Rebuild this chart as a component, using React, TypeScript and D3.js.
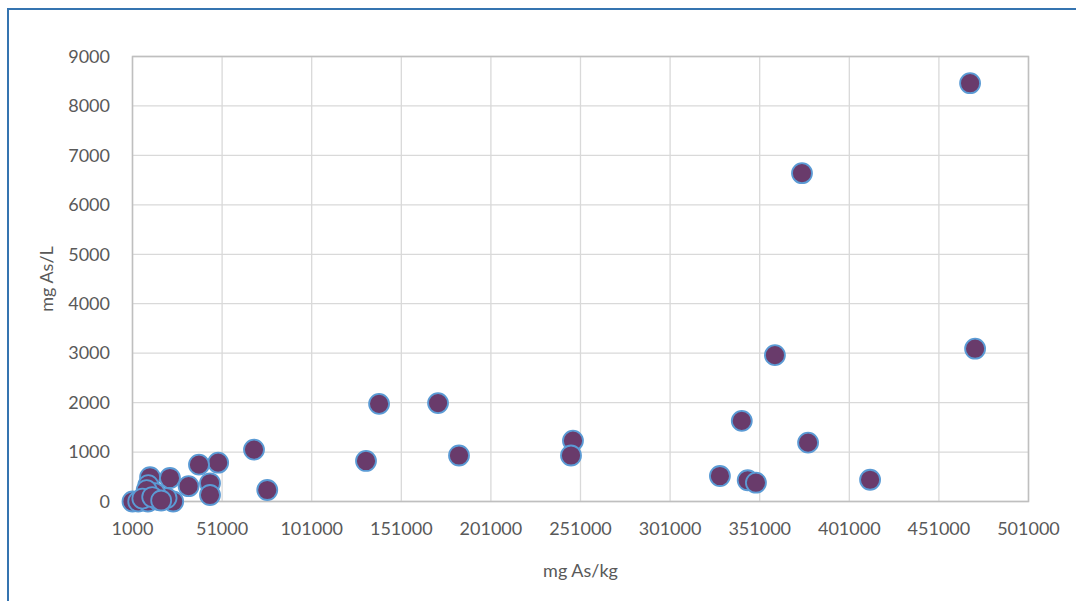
import React from "react";
import * as d3 from "d3";

const xValues = [
  468400, 374600, 359500, 471200, 341000, 378000, 412600, 328800, 344300, 348900,
  246800, 245700, 171500, 138600, 183200, 131300, 68800, 76200, 48800, 38100,
  44250, 44250, 32300, 10800, 21900, 9800, 23700, 1000, 4200, 9600,
  15200, 20000, 13500, 8900, 6500, 12000, 17000,
];
const yValues = [
  8460, 6640, 2960, 3090, 1630, 1190, 440, 516, 430, 380,
  1230, 930, 1990, 1975, 930, 820, 1050, 233, 785, 745,
  368, 131, 310, 490, 475, 330, 0, 0, 0, 0,
  30, 70, 170, 230, 60, 90, 20,
];
const xTicks = [1000, 51000, 101000, 151000, 201000, 251000, 301000, 351000, 401000, 451000, 501000];
const yTicks = [0, 1000, 2000, 3000, 4000, 5000, 6000, 7000, 8000, 9000];
const xTitle = "mg As/kg";
const yTitle = "mg As/L";

const W = 1076;
const H = 601;
const plot = { left: 132.5, right: 1028.5, top: 56.5, bottom: 501.5 };
const FONT = "Lato, 'Open Sans', sans-serif";
const TEXT = "#595959";

export default function App() {
  const x = d3.scaleLinear().domain([1000, 501000]).range([plot.left, plot.right]);
  const y = d3.scaleLinear().domain([0, 9000]).range([plot.bottom, plot.top]);
  const pts = xValues.map((v, i) => ({ x: v, y: yValues[i] }));
  return (
    <svg
      width={W}
      height={H}
      style={{ position: "absolute", left: 0, top: 0, background: "#fff" }}
    >
      <rect x={0} y={0} width={W} height={H} fill="#fff" />
      {/* outer frame */}
      <line x1={8} y1={9} x2={W} y2={9} stroke="#3574b0" strokeWidth={2} />
      <line x1={8} y1={8} x2={8} y2={H} stroke="#3574b0" strokeWidth={2} />
      {/* grid */}
      {yTicks.map((t) => (
        <line key={"gy" + t} x1={plot.left} x2={plot.right} y1={y(t)} y2={y(t)} stroke="#d9d9d9" strokeWidth={1.3} />
      ))}
      {xTicks.map((t) => (
        <line key={"gx" + t} x1={x(t)} x2={x(t)} y1={plot.top} y2={plot.bottom} stroke="#d9d9d9" strokeWidth={1.3} />
      ))}
      <rect
        x={plot.left}
        y={plot.top}
        width={plot.right - plot.left}
        height={plot.bottom - plot.top}
        fill="none"
        stroke="#bfbfbf"
        strokeWidth={1.5}
      />
      {/* tick labels */}
      {yTicks.map((t) => (
        <text key={"ty" + t} x={110} y={y(t)} dy="0.35em" textAnchor="end" fontFamily={FONT} fontSize={18} fill={TEXT}>
          {t}
        </text>
      ))}
      {xTicks.map((t) => (
        <text key={"tx" + t} x={x(t)} y={529} dy="0.35em" textAnchor="middle" fontFamily={FONT} fontSize={18} fill={TEXT}>
          {t}
        </text>
      ))}
      {/* axis titles */}
      <text x={(plot.left + plot.right) / 2} y={571} dy="0.35em" textAnchor="middle" fontFamily={FONT} fontSize={18} fill={TEXT}>
        {xTitle}
      </text>
      <text
        transform={`translate(47,${(plot.top + plot.bottom) / 2}) rotate(-90)`}
        dy="0.35em"
        textAnchor="middle"
        fontFamily={FONT}
        fontSize={18}
        fill={TEXT}
      >
        {yTitle}
      </text>
      {/* points */}
      {pts.map((p, i) => (
        <circle key={i} cx={x(p.x)} cy={y(p.y)} r={10} fill="#693b6b" stroke="#5b9bd5" strokeWidth={1.8} />
      ))}
    </svg>
  );
}
